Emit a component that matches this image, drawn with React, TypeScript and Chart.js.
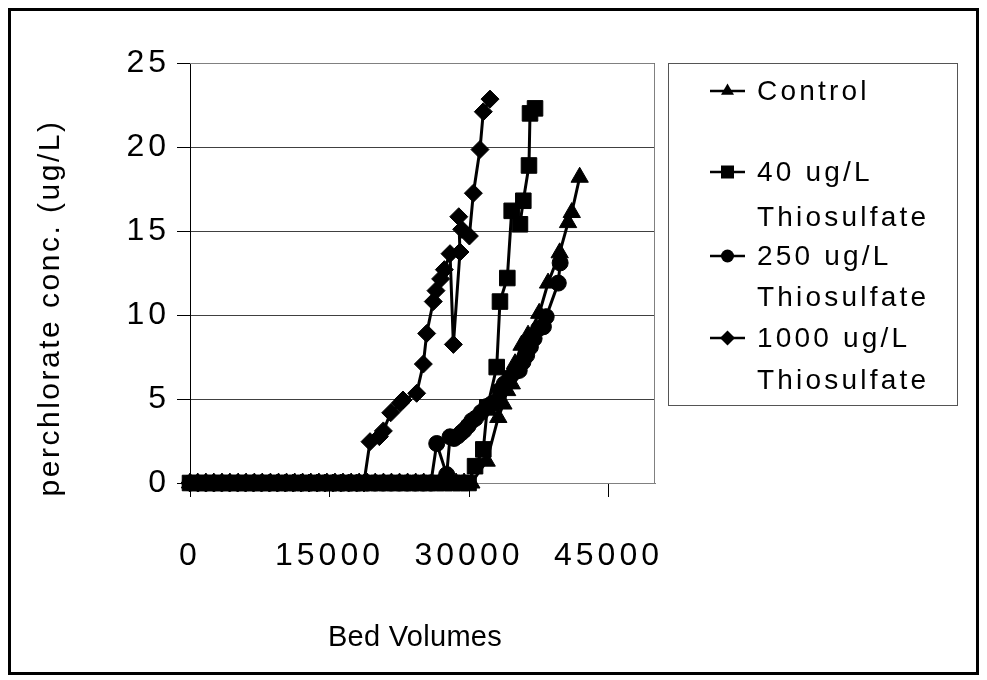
import React, { useEffect, useRef } from 'react';
import { Chart, registerables } from 'chart.js';

Chart.register(...registerables);

type Pt = [number, number];

// Bed volumes vs perchlorate concentration (ug/L)
const controlData: Pt[] = [
  [0, 0], [830, 0], [1710, 0], [2560, 0], [3440, 0], [4290, 0], [5180, 0], [6030, 0], [6920, 0], [7770, 0],
  [8650, 0], [9520, 0], [10380, 0], [11260, 0], [12110, 0], [12990, 0], [13860, 0], [14720, 0], [15590, 0], [16450, 0],
  [17330, 0], [18190, 0], [19060, 0], [19920, 0], [20800, 0], [21660, 0], [22530, 0], [23400, 0], [24270, 0], [25130, 0],
  [26010, 0], [26870, 0], [27740, 0], [28610, 0], [29470, 0], [30250, 0],
  [31900, 1.3], [33150, 3.9], [33700, 4.7], [34100, 5.5], [34600, 5.9], [34950, 7.1], [35650, 8.2], [36350, 8.8],
  [37550, 10.1], [38500, 11.9], [39750, 13.7], [40650, 15.5], [41050, 16.1], [41900, 18.2],
];

const thio40Data: Pt[] = [
  [0, 0], [880, 0], [1760, 0], [2650, 0], [3520, 0], [4410, 0], [5290, 0], [6170, 0], [7050, 0], [7940, 0],
  [8810, 0], [9700, 0], [10580, 0], [11460, 0], [12350, 0], [13220, 0], [14110, 0], [14990, 0], [15870, 0], [16760, 0],
  [17640, 0], [18510, 0], [19400, 0], [20280, 0], [21170, 0], [22040, 0], [22930, 0], [23810, 0], [24690, 0], [25570, 0],
  [26460, 0], [27340, 0], [28220, 0], [29110, 0], [29950, 0],
  [30650, 1.0], [31540, 2.0], [31970, 4.5], [32980, 6.9], [33330, 10.8], [34120, 12.2], [34590, 16.2], [35480, 15.4],
  [35840, 16.8], [36450, 18.9], [36560, 22.0], [37100, 22.3],
];

const thio250Data: Pt[] = [
  [0, 0], [860, 0], [1730, 0], [2590, 0], [3460, 0], [4320, 0], [5190, 0], [6050, 0], [6920, 0], [7780, 0],
  [8650, 0], [9510, 0], [10380, 0], [11240, 0], [12110, 0], [12970, 0], [13840, 0], [14700, 0], [15570, 0], [16430, 0],
  [17300, 0], [18160, 0], [19030, 0], [19890, 0], [20760, 0], [21620, 0], [22490, 0], [23350, 0], [24220, 0], [25080, 0],
  [25900, 0],
  [26530, 2.35], [27600, 0.5], [27960, 2.75], [28400, 2.65], [28800, 2.8], [29200, 3.0], [29500, 3.15], [29900, 3.4],
  [30300, 3.7], [30700, 3.85], [31300, 4.2], [31900, 4.55], [32400, 4.7], [32800, 4.8], [33300, 5.5], [33800, 5.9],
  [34400, 6.3], [34900, 6.6], [35400, 6.7], [35800, 7.2], [36200, 7.6], [36600, 8.1], [37000, 8.6], [37500, 9.2],
  [38000, 9.3], [38300, 9.9], [39600, 11.9], [39800, 13.1],
];

const thio1000Data: Pt[] = [
  [0, 0], [850, 0], [1700, 0], [2560, 0], [3410, 0], [4260, 0], [5120, 0], [5970, 0], [6820, 0], [7680, 0],
  [8530, 0], [9380, 0], [10240, 0], [11090, 0], [11940, 0], [12800, 0], [13650, 0], [14500, 0], [15360, 0], [16210, 0],
  [17060, 0], [17920, 0], [18700, 0],
  [19355, 2.46], [20360, 2.76], [20790, 3.1], [21580, 4.18], [22580, 4.74], [22900, 4.94], [24370, 5.34], [25090, 7.08],
  [25450, 8.9], [26160, 10.8], [26450, 11.45], [26950, 12.15], [27350, 12.7], [27960, 13.65], [28320, 8.25],
  [29030, 13.75], [28900, 15.85], [29210, 15.1], [30040, 14.7], [30470, 17.25], [31180, 19.85], [31540, 22.1], [32260, 22.85],
];

const xTicks = [0, 15000, 30000, 45000];
const yTicks = [0, 5, 10, 15, 20, 25];
const xTitle = 'Bed Volumes';
const yTitle = 'perchlorate conc. (ug/L)';
const legendLabels: string[][] = [
  ['Control'],
  ['40 ug/L', 'Thiosulfate'],
  ['250 ug/L', 'Thiosulfate'],
  ['1000 ug/L', 'Thiosulfate'],
];
const seriesNames = ['Control', '40 ug/L Thiosulfate', '250 ug/L Thiosulfate', '1000 ug/L Thiosulfate'];

const FONT = '"Liberation Sans", Arial, sans-serif';
const CANVAS_W = 965;
const CANVAS_H = 661;

const toXY = (d: Pt[]) => d.map(([x, y]) => ({ x, y }));

function marker(ctx: CanvasRenderingContext2D, style: string, x: number, y: number) {
  ctx.beginPath();
  if (style === 'triangle') {
    const r = 7.5;
    ctx.moveTo(x, y - r);
    ctx.lineTo(x + r * 0.866, y + r * 0.5);
    ctx.lineTo(x - r * 0.866, y + r * 0.5);
    ctx.closePath();
  } else if (style === 'rect') {
    ctx.rect(x - 6.5, y - 6.5, 13, 13);
  } else if (style === 'circle') {
    ctx.arc(x, y, 6.5, 0, Math.PI * 2);
  } else {
    const r = 7.5;
    ctx.moveTo(x, y - r);
    ctx.lineTo(x + r, y);
    ctx.lineTo(x, y + r);
    ctx.lineTo(x - r, y);
    ctx.closePath();
  }
  ctx.fill();
}

const decorPlugin = {
  id: 'decor',
  beforeDraw(chart: any) {
    (chart.ctx as any).letterSpacing = '4px';
  },
  beforeDatasetsDraw(chart: any) {
    const { ctx, chartArea: a } = chart;
    ctx.save();
    ctx.strokeStyle = '#808080';
    ctx.lineWidth = 1;
    ctx.beginPath();
    ctx.moveTo(a.left, a.top + 0.5);
    ctx.lineTo(a.right - 0.5, a.top + 0.5);
    ctx.lineTo(a.right - 0.5, a.bottom);
    ctx.stroke();
    ctx.restore();
  },
  afterDraw(chart: any) {
    const { ctx, chartArea: a } = chart;
    const styles = chart.data.datasets.map((d: any) => d.pointStyle);
    ctx.save();
    ctx.fillStyle = '#000';
    // axis titles
    ctx.font = `30px ${FONT}`;
    (ctx as any).letterSpacing = '2.5px';
    ctx.textAlign = 'center';
    ctx.textBaseline = 'middle';
    ctx.save();
    ctx.translate(40, 297);
    ctx.rotate(-Math.PI / 2);
    ctx.fillText(yTitle, 0, 0);
    ctx.restore();
    ctx.font = `29px ${FONT}`;
    (ctx as any).letterSpacing = '0.3px';
    ctx.textBaseline = 'alphabetic';
    ctx.fillText(xTitle, 404, 635);

    // legend
    const lx = a.right + 13;
    const ly = a.top;
    const lw = 289;
    const lh = 342;
    ctx.strokeStyle = '#555';
    ctx.lineWidth = 1;
    ctx.strokeRect(lx + 0.5, ly + 0.5, lw, lh);
    const firstRows = [27, 108, 192, 274];
    const secondRows = [null, 153, 233, 316];
    ctx.font = `28px ${FONT}`;
    (ctx as any).letterSpacing = '3.2px';
    ctx.textAlign = 'left';
    ctx.textBaseline = 'alphabetic';
    legendLabels.forEach((lines, i) => {
      const cy = ly + firstRows[i];
      ctx.strokeStyle = '#000';
      ctx.lineWidth = 2.5;
      ctx.beginPath();
      ctx.moveTo(lx + 42, cy + 1);
      ctx.lineTo(lx + 77, cy + 1);
      ctx.stroke();
      marker(ctx, styles[i], lx + 59.5, cy + 1);
      ctx.fillText(lines[0], lx + 89, cy + 10);
      if (lines[1] && secondRows[i] !== null) {
        ctx.fillText(lines[1], lx + 89, ly + (secondRows[i] as number) + 10);
      }
    });
    ctx.restore();
  },
};

function makeDataset(label: string, data: Pt[], pointStyle: string, radius: number) {
  return {
    label,
    data: toXY(data),
    showLine: true,
    borderColor: '#000',
    backgroundColor: '#000',
    borderWidth: 3,
    pointStyle,
    pointRadius: radius,
    pointHoverRadius: radius,
    pointBackgroundColor: '#000',
    pointBorderColor: '#000',
    pointBorderWidth: 1,
    tension: 0,
    clip: false,
  };
}

export default function App() {
  const ref = useRef<HTMLCanvasElement | null>(null);

  useEffect(() => {
    if (!ref.current) return;
    const chart = new Chart(ref.current, {
      type: 'scatter',
      data: {
        datasets: [
          makeDataset(seriesNames[0], controlData, 'triangle', 10),
          makeDataset(seriesNames[1], thio40Data, 'rect', 11),
          makeDataset(seriesNames[2], thio250Data, 'circle', 8),
          makeDataset(seriesNames[3], thio1000Data, 'rectRot', 9),
        ] as any,
      },
      options: {
        animation: false,
        responsive: false,
        maintainAspectRatio: false,
        devicePixelRatio: 1,
        layout: { padding: { left: 0, top: 52, right: 321, bottom: 0 } },
        plugins: {
          legend: { display: false },
          tooltip: { enabled: false },
          title: { display: false },
        },
        scales: {
          x: {
            type: 'linear',
            min: 0,
            max: 50000,
            afterBuildTicks: (s: any) => {
              s.ticks = xTicks.map((v) => ({ value: v }));
            },
            afterFit: (s: any) => {
              s.height = 189;
            },
            ticks: {
              autoSkip: false,
              maxRotation: 0,
              padding: 40,
              color: '#000',
              font: { family: FONT, size: 32 },
              callback: (v: any) => String(v),
            },
            grid: { drawOnChartArea: false, drawTicks: true, tickLength: 14, tickColor: '#000', color: '#000' },
            border: { color: '#808080', width: 1 },
          },
          y: {
            type: 'linear',
            min: 0,
            max: 25,
            afterBuildTicks: (s: any) => {
              s.ticks = yTicks.map((v) => ({ value: v }));
            },
            afterFit: (s: any) => {
              s.width = 179;
            },
            ticks: {
              padding: 7,
              color: '#000',
              font: { family: FONT, size: 32 },
              callback: (v: any) => String(v),
            },
            grid: { color: '#404040', lineWidth: 1, tickLength: 13, tickColor: '#000' },
            border: { color: '#000', width: 1 },
          },
        },
      } as any,
      plugins: [decorPlugin as any],
    });
    return () => chart.destroy();
  }, []);

  return (
    <div
      style={{
        width: 971,
        height: 667,
        border: '3px solid #000',
        boxSizing: 'border-box',
        background: '#fff',
      }}
    >
      <canvas ref={ref} width={CANVAS_W} height={CANVAS_H} style={{ display: 'block', width: CANVAS_W, height: CANVAS_H }} />
    </div>
  );
}
